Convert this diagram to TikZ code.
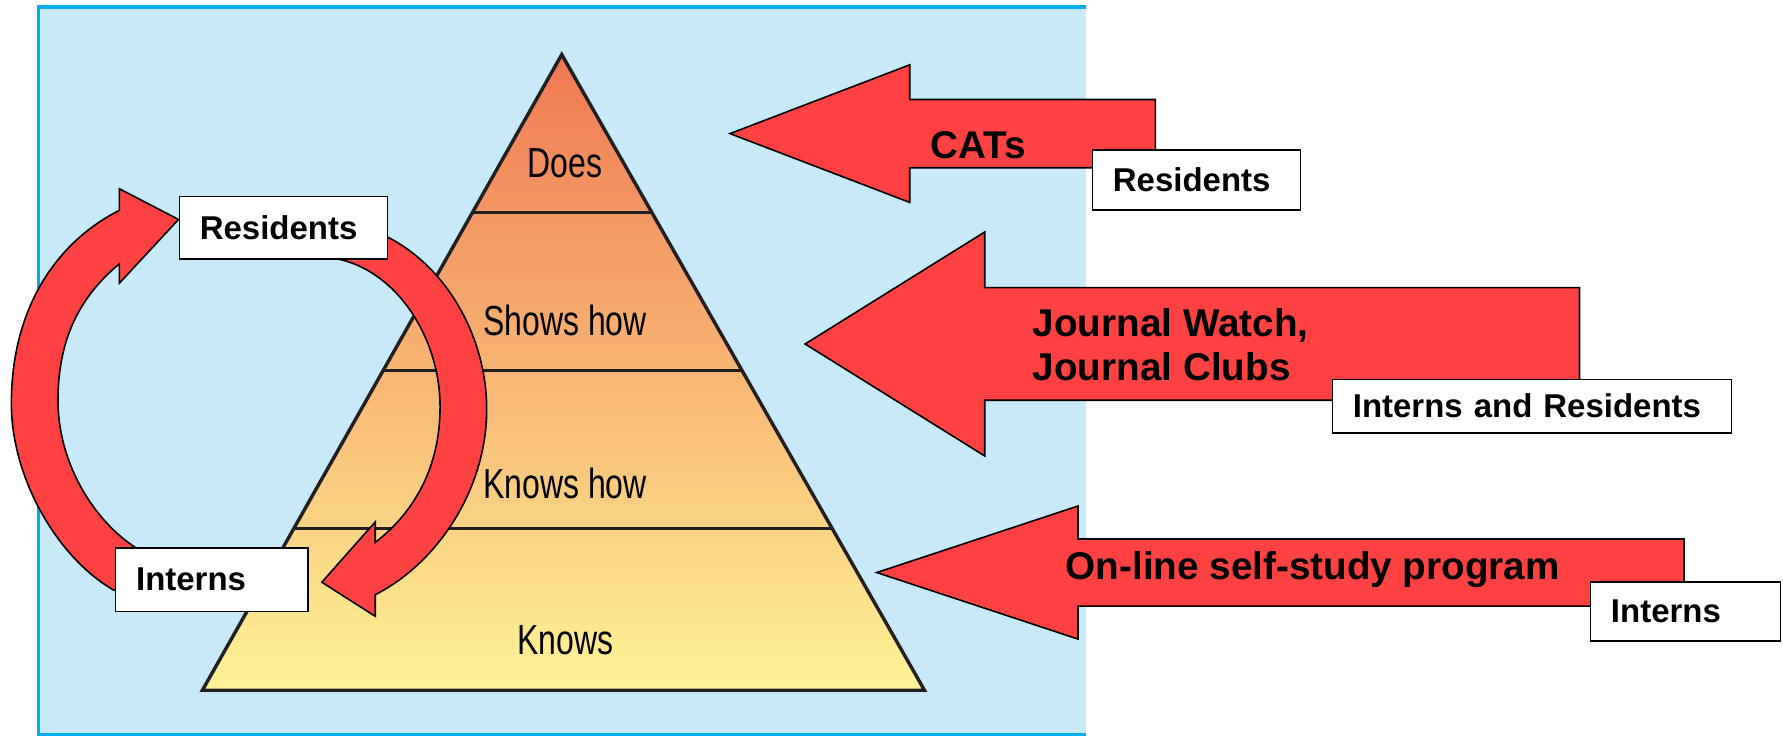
\documentclass[tikz,border=0pt]{standalone}
\usepackage{fontspec}
\setmainfont{Liberation Sans}
\newfontfamily\pyrfont[FakeStretch=0.76]{Liberation Sans}
\definecolor{sky}{RGB}{199,233,248}
\definecolor{skyline}{RGB}{0,174,239}
\definecolor{arrowred}{RGB}{255,65,65}
\definecolor{pyrtop}{RGB}{239,120,82}
\definecolor{pyrbot}{RGB}{255,243,150}
\definecolor{ink}{RGB}{35,31,32}

\begin{document}
\begin{tikzpicture}[x=1pt,y=-1pt,
tag/.style={draw=black,fill=white,line width=1.4pt,inner xsep=18pt,inner ysep=0pt,
  anchor=north west,align=left,font=\fontsize{29}{34}\selectfont\bfseries},
lbl/.style={inner sep=0pt,anchor=base west,font=\fontsize{34}{40}\selectfont\bfseries},
level/.style={inner sep=0pt,anchor=base,font=\fontsize{37}{40}\selectfont\pyrfont},
bigarrow/.style={draw=black,fill=arrowred,line width=1.4pt,line join=miter},
rung/.style={draw=ink,line width=3pt}]
\useasboundingbox (0,0) rectangle (1568,648);

% background panel
\fill[sky] (34,6) rectangle (955,646);
\draw[skyline,line width=3pt] (955,6) -- (34,6) -- (34,646) -- (955,646);

% pyramid
\path[top color=pyrtop,bottom color=pyrbot] (494,48) -- (813,607) -- (178,607) -- cycle;
\foreach \y in {187,326,465}
  \draw[rung] ({494-(\y-48)/559*316},\y) -- ({494+(\y-48)/559*319},\y);
\draw[ink,line width=3pt,line join=miter] (494,48) -- (813,607) -- (178,607) -- cycle;

% cycle arrows
\draw[bigarrow] (100,519) .. controls (50,490) and (10,420) .. (10,355)
  .. controls (10,265) and (55,210) .. (105,185) -- (105,166) -- (157,193)
  -- (105,249) -- (105,232) .. controls (75,257) and (51,292) .. (51,352)
  .. controls (51,410) and (85,460) .. (120,482) -- (140,500) -- cycle;
\draw[bigarrow] (320,200) .. controls (385,220) and (428,290) .. (428,360)
  .. controls (428,430) and (385,495) .. (330,523) -- (330,542) -- (283,512)
  -- (330,459) -- (330,477) .. controls (365,450) and (387,410) .. (387,358)
  .. controls (387,290) and (340,226) .. (280,226) -- cycle;

\node[level] (does) at (497,156) {Does};
\node[level] (shows) at (497,295) {Shows how};
\node[level] (knowshow) at (497,438) {Knows how};
\node[level] (knows) at (497,576) {Knows};

% teaching arrows
\foreach \tx/\cy/\bx/\hh/\sh/\ex in {642/117.5/800/60.5/30/1016,
  708/302.5/866/98.5/49.5/1389, 771/503.5/948/58.5/29.5/1481}
  \draw[bigarrow] (\tx,\cy) -- (\bx,{\cy-\hh}) -- (\bx,{\cy-\sh}) -- (\ex,{\cy-\sh})
    -- (\ex,{\cy+\sh}) -- (\bx,{\cy+\sh}) -- (\bx,{\cy+\hh}) -- cycle;

\node[lbl] (cats) at (818,139) {CATs};
\node[lbl] (jwatch) at (908,296) {Journal Watch,};
\node[lbl] (jclubs) at (908,335) {Journal Clubs};
\node[lbl] (online) at (937,510) {On-line self-study program};

% who
\node[tag,text width=147pt,minimum height=55pt] (resL) at (157,172) {Residents};
\node[tag,text width=133pt,minimum height=56pt] (intL) at (101,481) {Interns};
\node[tag,text width=147pt,minimum height=53pt] (resR) at (960,131) {Residents};
\node[tag,text width=315pt,minimum height=47pt] (intres) at (1171,333) {Interns and Residents};
\node[tag,text width=131pt,minimum height=52pt] (intR) at (1398,511) {Interns};

\end{tikzpicture}
\end{document}
